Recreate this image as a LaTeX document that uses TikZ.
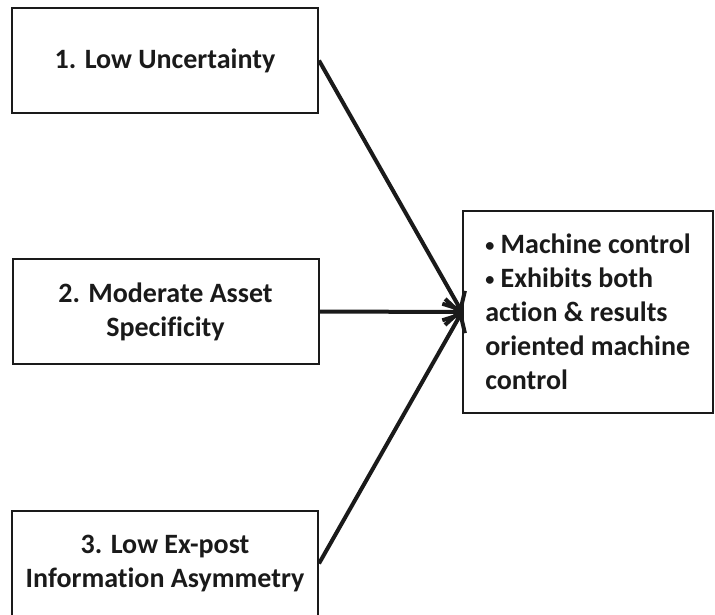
\documentclass[tikz,border=0pt]{standalone}
\usepackage{fontspec}
\setmainfont{Carlito}[Ligatures=NoCommon]
\usetikzlibrary{arrows.meta}
\definecolor{ink}{HTML}{1A1A1A}
\newcommand{\smallbullet}{\raisebox{0.2ex}{\scalebox{0.65}{•}}}
\begin{document}
\begin{tikzpicture}[x=1pt,y=-1pt,
  factor/.style={draw=ink, line width=2pt, minimum width=306pt, minimum height=105pt,
    align=center, text=ink, font=\fontsize{28}{34}\selectfont\bfseries, inner sep=0pt},
  outcome/.style={draw=ink, line width=2pt, minimum width=250pt, minimum height=202pt,
    align=left, text=ink, font=\fontsize{28}{34}\selectfont\bfseries, inner sep=0pt},
  link/.style={draw=ink, line width=4pt,
    -{Straight Barb[length=14pt,width=26pt,line width=4pt]}}]
  \useasboundingbox (0,0) rectangle (715,614);

  % three antecedent conditions
  \node[factor] (low)  at (165,60.5)  {1. Low Uncertainty};
  \node[factor] (asset) at (165.5,311.5) {2. Moderate Asset\\Specificity};
  \node[factor] (info) at (165,563.5) {3. Low Ex-post\\Information Asymmetry};

  % resulting control form
  \node[outcome] (ctrl) at (588,312) {\smallbullet{} Machine control\\\smallbullet{} Exhibits both\\action \& results\\oriented machine\\control};

  % connectors
  \draw[link] (low.east) -- (ctrl.west);
  \draw[link] (asset.east) -- (ctrl.west);
  \draw[link] (info.east) -- (ctrl.west);
\end{tikzpicture}
\end{document}
